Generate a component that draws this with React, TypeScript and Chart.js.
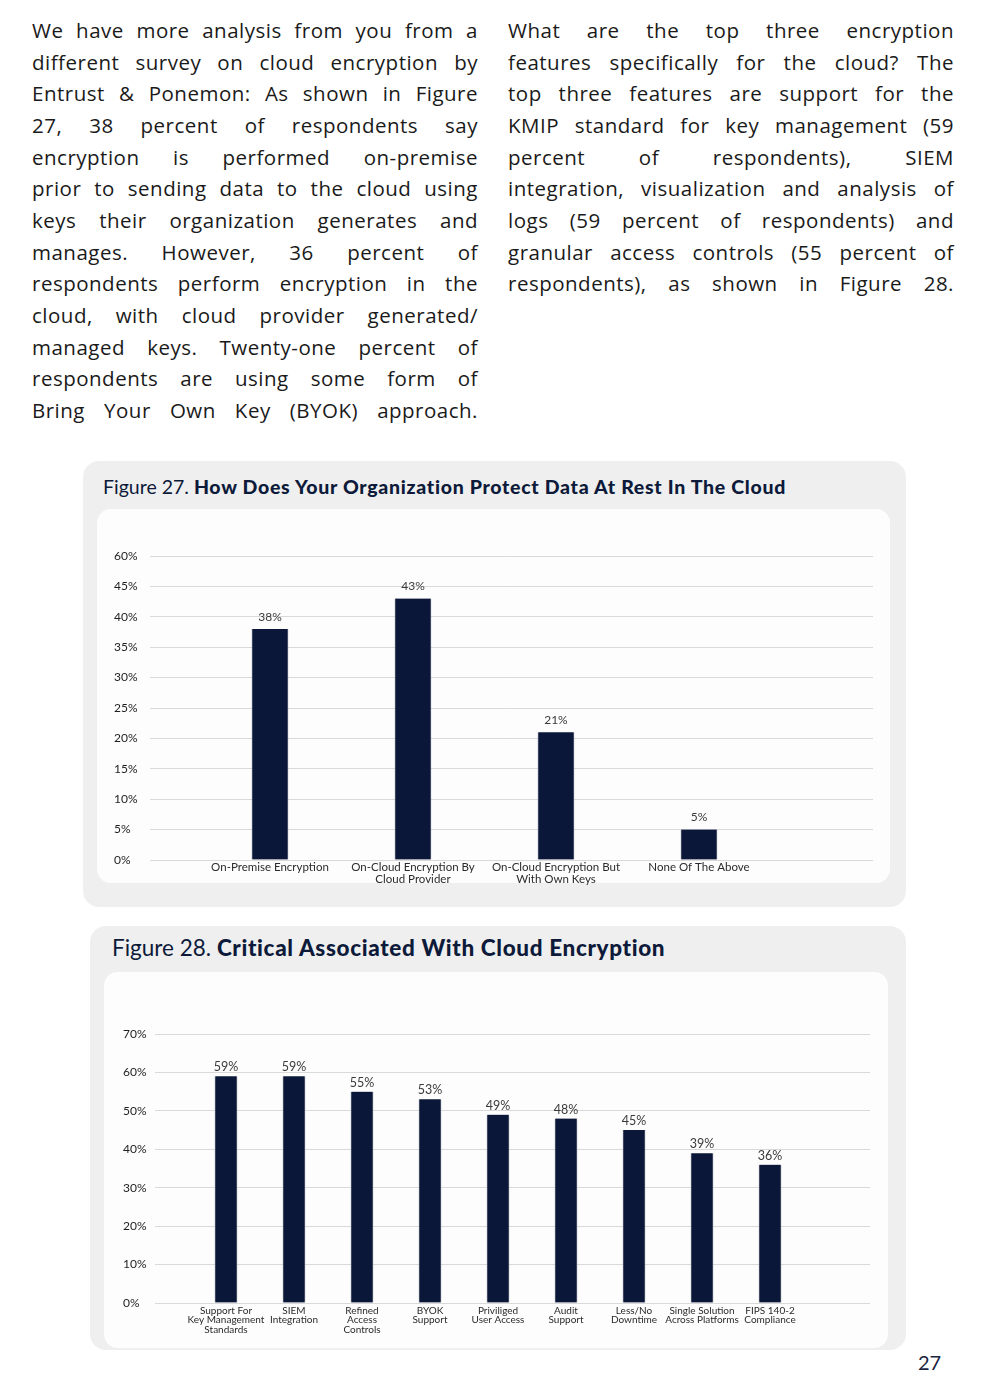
import React, { useEffect, useRef } from "react";
import { Chart, registerables } from "chart.js";

Chart.register(...registerables);

// ---------- DATA ----------
const LEFT_LINES = [
  "We have more analysis from you from a",
  "different survey on cloud encryption by",
  "Entrust & Ponemon: As shown in Figure",
  "27, 38 percent of respondents say",
  "encryption is performed on-premise",
  "prior to sending data to the cloud using",
  "keys their organization generates and",
  "manages. However, 36 percent of",
  "respondents perform encryption in the",
  "cloud, with cloud provider generated/",
  "managed keys. Twenty-one percent of",
  "respondents are using some form of",
  "Bring Your Own Key (BYOK) approach.",
];
const RIGHT_LINES = [
  "What are the top three encryption",
  "features specifically for the cloud? The",
  "top three features are support for the",
  "KMIP standard for key management (59",
  "percent of respondents), SIEM",
  "integration, visualization and analysis of",
  "logs (59 percent of respondents) and",
  "granular access controls (55 percent of",
  "respondents), as shown in Figure 28.",
];

const FIG27_PREFIX = "Figure 27.";
const FIG27_TITLE = "How Does Your Organization Protect Data At Rest In The Cloud";
const FIG27_CATEGORIES: (string | string[])[] = [
  "On-Premise Encryption",
  ["On-Cloud Encryption By", "Cloud Provider"],
  ["On-Cloud Encryption But", "With Own Keys"],
  "None Of The Above",
];
const FIG27_VALUES = [38, 43, 21, 5];
const FIG27_Y_TICKS = ["0%", "5%", "10%", "15%", "20%", "25%", "30%", "35%", "40%", "45%", "60%"];

const FIG28_PREFIX = "Figure 28.";
const FIG28_TITLE = "Critical Associated With Cloud Encryption";
const FIG28_CATEGORIES: (string | string[])[] = [
  ["Support For", "Key Management", "Standards"],
  ["SIEM", "Integration"],
  ["Refined", "Access", "Controls"],
  ["BYOK", "Support"],
  ["Priviliged", "User Access"],
  ["Audit", "Support"],
  ["Less/No", "Downtime"],
  ["Single Solution", "Across Platforms"],
  ["FIPS 140-2", "Compliance"],
];
const FIG28_VALUES = [59, 59, 55, 53, 49, 48, 45, 39, 36];
const FIG28_Y_TICKS = ["0%", "10%", "20%", "30%", "40%", "50%", "60%", "70%"];

const PAGE_NUMBER = "27";

// ---------- STYLE ----------
const NAVY = "#0b1738";
const CHART_FONT = "Lato, 'Noto Sans', sans-serif";

const valueLabels = {
  id: "valueLabels",
  afterDatasetsDraw(chart: any, _args: any, opts: any) {
    const { ctx } = chart;
    const meta = chart.getDatasetMeta(0);
    const ds = chart.data.datasets[0];
    ctx.save();
    ctx.font = `${opts.size}px ${CHART_FONT}`;
    ctx.fillStyle = opts.color;
    ctx.textAlign = "center";
    ctx.textBaseline = "middle";
    meta.data.forEach((bar: any, i: number) => {
      const v = ds.data[i].y;
      ctx.fillText(`${v}%`, bar.x, bar.y - opts.offset);
    });
    ctx.restore();
  },
};

type Cfg = {
  categories: (string | string[])[];
  values: number[];
  yTicks: string[];
  yMax: number;
  yStep: number;
  xMin: number;
  xMax: number;
  barThickness: number;
  padding: { left: number; right: number; top: number; bottom: number };
  yWidth: number;
  xHeight: number;
  yFont: number;
  xFont: number;
  xLineHeight: number;
  xPad: number;
  labelSize: number;
  labelOffset: number;
};

function BarChart({ cfg, width, height }: { cfg: Cfg; width: number; height: number }) {
  const ref = useRef<HTMLCanvasElement>(null);
  useEffect(() => {
    if (!ref.current) return;
    const chart = new Chart(ref.current, {
      type: "bar",
      data: {
        datasets: [
          {
            data: cfg.values.map((v, i) => ({ x: i, y: v })),
            backgroundColor: NAVY,
            borderColor: "#5a6175",
            borderWidth: { left: 1, right: 1, top: 0, bottom: 0 },
            barThickness: cfg.barThickness,
          } as any,
        ],
      },
      options: {
        animation: false,
        responsive: false,
        devicePixelRatio: 1,
        layout: { padding: cfg.padding },
        plugins: {
          legend: { display: false },
          tooltip: { enabled: false },
          valueLabels: { size: cfg.labelSize, offset: cfg.labelOffset, color: "#3a3a3a" },
        } as any,
        scales: {
          x: {
            type: "linear",
            min: cfg.xMin,
            max: cfg.xMax,
            offset: false,
            grid: { display: false, drawTicks: false },
            border: { display: false },
            afterBuildTicks: (axis: any) => {
              axis.ticks = cfg.categories.map((_, i) => ({ value: i }));
            },
            afterFit: (axis: any) => {
              axis.height = cfg.xHeight;
            },
            ticks: {
              autoSkip: false,
              maxRotation: 0,
              minRotation: 0,
              padding: cfg.xPad,
              color: "#2b2b2b",
              font: { family: CHART_FONT, size: cfg.xFont, lineHeight: cfg.xLineHeight },
              callback: (v: any) => {
                const idx = Number(v);
                return Number.isInteger(idx) && cfg.categories[idx] !== undefined ? (cfg.categories[idx] as any) : "";
              },
            },
          } as any,
          y: {
            min: 0,
            max: cfg.yMax,
            grid: { color: "#d9d9d9", lineWidth: 1, drawTicks: false },
            border: { display: false },
            afterFit: (axis: any) => {
              axis.width = cfg.yWidth;
            },
            ticks: {
              stepSize: cfg.yStep,
              crossAlign: "far",
              padding: 0,
              color: "#1e1e1e",
              font: { family: CHART_FONT, size: cfg.yFont },
              callback: (_v: any, i: number) => cfg.yTicks[i] ?? "",
            },
          } as any,
        },
      },
      plugins: [valueLabels as any],
    });
    return () => chart.destroy();
  }, [cfg]);
  return <canvas ref={ref} width={width} height={height} style={{ width, height, display: "block" }} />;
}

const CFG27: Cfg = {
  categories: FIG27_CATEGORIES,
  values: FIG27_VALUES,
  yTicks: FIG27_Y_TICKS,
  yMax: 50,
  yStep: 5,
  xMin: -0.839,
  xMax: 4.217,
  barThickness: 36,
  padding: { left: 16, right: 16, top: 46, bottom: 0 },
  yWidth: 36,
  xHeight: 30,
  yFont: 12,
  xFont: 11.5,
  xLineHeight: 1.05,
  xPad: 1,
  labelSize: 12,
  labelOffset: 12,
};

const CFG28: Cfg = {
  categories: FIG28_CATEGORIES,
  values: FIG28_VALUES,
  yTicks: FIG28_Y_TICKS,
  yMax: 70,
  yStep: 10,
  xMin: -1.044,
  xMax: 9.47,
  barThickness: 22,
  padding: { left: 19, right: 18, top: 62, bottom: 0 },
  yWidth: 32,
  xHeight: 61,
  yFont: 12,
  xFont: 10,
  xLineHeight: 0.95,
  xPad: 3,
  labelSize: 12.5,
  labelOffset: 9,
};

const bodyFont = "'Open Sans', 'Noto Sans', sans-serif";
const titleFont = "Lato, 'Noto Sans', sans-serif";

function Column({ lines, left, top }: { lines: string[]; left: number; top: number }) {
  return (
    <div style={{ position: "absolute", left, top, width: 446 }}>
      {lines.map((l, i) => (
        <div
          key={i}
          style={{
            height: 31.67,
            lineHeight: "31.67px",
            fontSize: 20.5,
            letterSpacing: 0.5,
            fontFamily: bodyFont,
            color: "#1a1a1a",
            textAlign: "justify",
            textAlignLast: "justify" as any,
            whiteSpace: "nowrap",
          }}
        >
          {l}
        </div>
      ))}
    </div>
  );
}

export default function App() {
  return (
    <div
      style={{
        position: "absolute",
        left: 0,
        top: 0,
        width: 988,
        height: 1398,
        background: "#ffffff",
        overflow: "hidden",
      }}
    >
      <Column lines={LEFT_LINES} left={32} top={15} />
      <Column lines={RIGHT_LINES} left={508} top={15} />

      {/* Figure 27 */}
      <div style={{ position: "absolute", left: 83, top: 461, width: 823, height: 446, background: "#efefef", borderRadius: 16 }} />
      <div style={{ position: "absolute", left: 97, top: 509, width: 793, height: 374, background: "#fdfdfd", borderRadius: 14 }} />
      <div
        style={{
          position: "absolute",
          left: 103,
          top: 475,
          lineHeight: "24px",
          fontSize: 19.5,
          fontFamily: titleFont,
          color: "#0d1a3a",
          whiteSpace: "nowrap",
        }}
      >
        {FIG27_PREFIX} <b style={{ fontWeight: 900, letterSpacing: 0.7 }}>{FIG27_TITLE}</b>
      </div>
      <div style={{ position: "absolute", left: 98, top: 510 }}>
        <BarChart cfg={CFG27} width={791} height={380} />
      </div>

      {/* Figure 28 */}
      <div style={{ position: "absolute", left: 90, top: 926, width: 816, height: 424, background: "#efefef", borderRadius: 16 }} />
      <div style={{ position: "absolute", left: 104, top: 972, width: 784, height: 376, background: "#fdfdfd", borderRadius: 14 }} />
      <div
        style={{
          position: "absolute",
          left: 112,
          top: 934,
          lineHeight: "28px",
          fontSize: 22.5,
          fontFamily: titleFont,
          color: "#0d1a3a",
          whiteSpace: "nowrap",
        }}
      >
        {FIG28_PREFIX} <b style={{ fontWeight: 900, letterSpacing: 0.65 }}>{FIG28_TITLE}</b>
      </div>
      <div style={{ position: "absolute", left: 104, top: 972 }}>
        <BarChart cfg={CFG28} width={784} height={392} />
      </div>

      <div
        style={{
          position: "absolute",
          left: 918,
          top: 1349,
          lineHeight: "26px",
          fontSize: 20,
          fontFamily: titleFont,
          color: "#1a2540",
        }}
      >
        {PAGE_NUMBER}
      </div>
    </div>
  );
}
